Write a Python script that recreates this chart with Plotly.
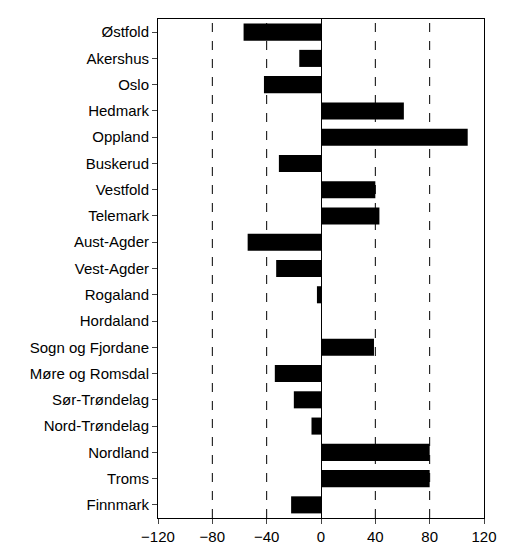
import plotly.graph_objects as go

counties = ["Østfold", "Akershus", "Oslo", "Hedmark", "Oppland", "Buskerud",
            "Vestfold", "Telemark", "Aust-Agder", "Vest-Agder", "Rogaland",
            "Hordaland", "Sogn og Fjordane", "Møre og Romsdal", "Sør-Trøndelag",
            "Nord-Trøndelag", "Nordland", "Troms", "Finnmark"]
values = [-57, -16, -42, 61, 108, -31, 40, 43, -54, -33, -3,
          0, 39, -34, -20, -7, 80, 80, -22]
x_ticks = [-120, -80, -40, 0, 40, 80, 120]

fig = go.Figure(go.Bar(
    x=values, y=counties, orientation="h",
    marker=dict(color="black", line=dict(width=0)), width=0.65,
))

for v in [-80, -40, 40, 80]:
    fig.add_vline(x=v, line=dict(color="black", width=1, dash="dash"), layer="below")

fig.update_layout(
    width=512, height=547, plot_bgcolor="white", paper_bgcolor="white",
    margin=dict(l=150, r=36, t=10, b=28), showlegend=False,
    font=dict(family="Liberation Sans, Arial", size=15, color="black"),
)
fig.update_xaxes(range=[-120, 120], tickvals=x_ticks, ticks="outside", ticklen=5,
                 showgrid=False, zeroline=True, zerolinecolor="black", zerolinewidth=1,
                 showline=True, linecolor="black", mirror=True)
fig.update_yaxes(autorange="reversed", ticks="outside", ticklen=5, showgrid=False,
                 showline=True, linecolor="black", mirror=True,
                 categoryorder="array", categoryarray=counties)

fig.write_html("out.html")
